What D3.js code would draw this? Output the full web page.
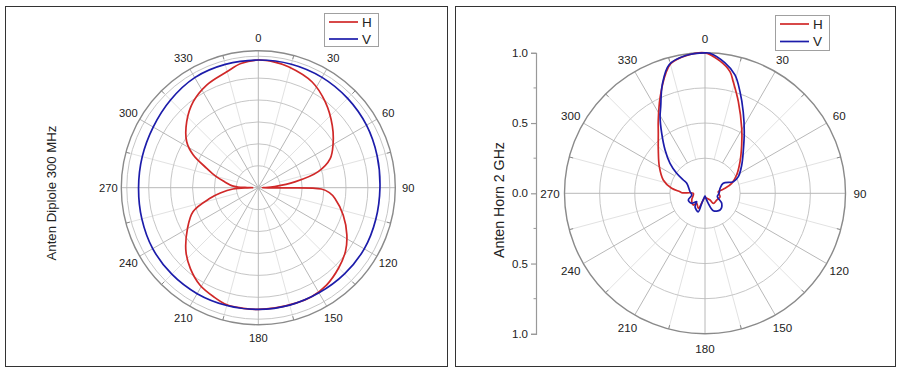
<!DOCTYPE html>
<html>
<head>
<meta charset="utf-8">
<script src="https://cdn.jsdelivr.net/npm/d3@7"></script>
<style>
  body { margin: 0; background: #fff; }
  svg { display: block; }
</style>
</head>
<body>
<div id="chart"></div>
<script>
// angle labels and grid
const angleTicks = [0, 30, 60, 90, 120, 150, 180, 210, 240, 270, 300, 330];
const minorAngles = [15, 45, 75, 105, 135, 165, 195, 225, 255, 285, 315, 345];
const seriesNames = ["H", "V"];

// dipole 300 MHz (radius as fraction of outer ring)
const dipoleRings = [0.16, 0.32, 0.48, 0.64, 0.80, 0.96];
const dipoleHAngles = [0, 7, 14, 27, 38, 50, 60, 68, 75, 81, 86, 89, 90, 90.6, 91.2, 94, 98, 108, 118, 126, 135, 145, 154, 162, 172, 180, 187, 195, 202, 211, 220, 228.5, 240, 250, 257.6, 262, 267, 269.3, 270, 271, 272, 274, 280, 285, 290.6, 296.7, 302.7, 312.7, 322.9, 333.3, 344.8, 352];
const dipoleHValues = [0.932, 0.925, 0.91, 0.866, 0.794, 0.705, 0.63, 0.566, 0.453, 0.27, 0.12, 0.05, 0.03, 0.15, 0.46, 0.52, 0.565, 0.652, 0.732, 0.787, 0.829, 0.868, 0.886, 0.886, 0.886, 0.888, 0.887, 0.885, 0.861, 0.828, 0.771, 0.705, 0.597, 0.506, 0.361, 0.28, 0.185, 0.08, 0.04, 0.08, 0.15, 0.19, 0.25, 0.32, 0.402, 0.531, 0.621, 0.711, 0.787, 0.839, 0.877, 0.915];
const dipoleVAngles = [0, 15, 30, 45, 60, 75, 90, 105, 120, 135, 150, 165, 180, 195, 210, 225, 240, 255, 270, 285, 300, 315, 330, 345];
const dipoleVValues = [0.932, 0.933, 0.93, 0.922, 0.912, 0.898, 0.888, 0.888, 0.893, 0.89, 0.886, 0.887, 0.888, 0.89, 0.893, 0.893, 0.89, 0.88, 0.874, 0.877, 0.886, 0.906, 0.928, 0.932];

// horn 2 GHz (normalised amplitude)
const hornRings = [0.25, 0.5, 0.75];
const hornAxisTicks = [1, 0.5, 0, -0.5, -1];
const hornAxisMinor = [0.75, 0.25, -0.25, -0.75];
const hornHAngles = [0, 6.4, 11.6, 14.2, 20, 29.5, 37.2, 47.9, 60, 69.5, 76, 78.8, 83, 102.8, 120, 140, 143, 165, 180, 204, 219.7, 225, 243, 260, 270, 271.5, 273.7, 278.5, 287.7, 300.2, 312.8, 322.1, 327.5, 335, 342, 345.3, 352.5];
const hornHValues = [1.0, 0.948, 0.884, 0.819, 0.694, 0.531, 0.432, 0.336, 0.26, 0.203, 0.147, 0.121, 0.095, 0.11, 0.096, 0.093, 0.06, 0.035, 0.03, 0.117, 0.093, 0.118, 0.106, 0.085, 0.083, 0.166, 0.178, 0.24, 0.312, 0.376, 0.453, 0.541, 0.619, 0.755, 0.9, 0.955, 0.99];
const hornVAngles = [0, 2, 8.6, 14.2, 19, 25.1, 32.5, 42.6, 52.4, 63.5, 67.7, 61.3, 71.6, 90, 105, 121, 138, 154.5, 162, 172, 180, 190, 198, 200, 216.7, 224.7, 233, 248, 262.7, 276, 298.7, 301.5, 305.2, 310.6, 317.3, 324.2, 329.6, 332.9, 338.5, 344.4, 352];
const hornVValues = [1.0, 0.997, 0.94, 0.869, 0.765, 0.641, 0.52, 0.402, 0.33, 0.265, 0.218, 0.148, 0.113, 0.1, 0.091, 0.139, 0.16, 0.137, 0.075, 0.03, 0.02, 0.03, 0.075, 0.14, 0.119, 0.084, 0.118, 0.128, 0.095, 0.107, 0.148, 0.181, 0.247, 0.328, 0.419, 0.527, 0.632, 0.692, 0.83, 0.95, 0.99];

const W = 900, H = 372;
const font = "Arial, 'Liberation Sans', sans-serif";
const colorH = "#d02828";
const colorV = "#1c1caa";

const svg = d3.select("#chart").append("svg")
  .attr("width", W).attr("height", H)
  .attr("viewBox", `0 0 ${W} ${H}`);

const toPts = (angles, values) => angles.map((a, i) => ({ a, v: values[i] }));

function drawPolar(cfg) {
  const g = svg.append("g");

  // panel frame
  g.append("rect")
    .attr("x", cfg.frame[0] + 0.5).attr("y", cfg.frame[1] + 0.5)
    .attr("width", cfg.frame[2] - cfg.frame[0]).attr("height", cfg.frame[3] - cfg.frame[1])
    .attr("fill", "none").attr("stroke", "#333").attr("stroke-width", 1);

  const r = d3.scaleLinear().domain([0, 1]).range([0, cfg.R]);
  const p = g.append("g").attr("transform", `translate(${cfg.cx},${cfg.cy})`);
  const rad = a => (a - 90) * Math.PI / 180;

  // minor spokes
  p.selectAll(".minor").data(minorAngles).join("line")
    .attr("x1", d => r(cfg.minorStart) * Math.cos(rad(d)))
    .attr("y1", d => r(cfg.minorStart) * Math.sin(rad(d)))
    .attr("x2", d => cfg.R * Math.cos(rad(d)))
    .attr("y2", d => cfg.R * Math.sin(rad(d)))
    .attr("stroke", "#e2e2e2").attr("stroke-width", 1);

  // rings
  p.selectAll(".ring").data(cfg.rings).join("circle")
    .attr("r", d => r(d))
    .attr("fill", "none").attr("stroke", "#c6c6c6").attr("stroke-width", 1);

  // major spokes
  p.selectAll(".major").data(angleTicks).join("line")
    .attr("x1", d => r(cfg.majorStart(d)) * Math.cos(rad(d)))
    .attr("y1", d => r(cfg.majorStart(d)) * Math.sin(rad(d)))
    .attr("x2", d => cfg.R * Math.cos(rad(d)))
    .attr("y2", d => cfg.R * Math.sin(rad(d)))
    .attr("stroke", "#b8b8b8").attr("stroke-width", 1);

  // outer ring and ticks
  p.append("circle").attr("r", cfg.R)
    .attr("fill", "none").attr("stroke", "#8a8a8a").attr("stroke-width", 1.4);
  p.selectAll(".otick").data(minorAngles).join("line")
    .attr("x1", d => cfg.R * Math.cos(rad(d)))
    .attr("y1", d => cfg.R * Math.sin(rad(d)))
    .attr("x2", d => (cfg.R - 4) * Math.cos(rad(d)))
    .attr("y2", d => (cfg.R - 4) * Math.sin(rad(d)))
    .attr("stroke", "#8a8a8a").attr("stroke-width", 1);

  // angle labels
  p.selectAll(".alab").data(angleTicks).join("text")
    .attr("x", d => cfg.labelR * Math.cos(rad(d)))
    .attr("y", d => cfg.labelR * Math.sin(rad(d)))
    .attr("text-anchor", "middle").attr("dominant-baseline", "central")
    .attr("font-family", font).attr("font-size", cfg.labelSize).attr("fill", "#222")
    .text(d => d);

  // series
  const line = d3.lineRadial()
    .angle(d => d.a * Math.PI / 180)
    .radius(d => r(d.v))
    .curve(d3.curveCatmullRomClosed.alpha(0.5));

  cfg.series.forEach(s => {
    p.append("path").datum(s.pts)
      .attr("d", line)
      .attr("fill", "none").attr("stroke", s.color)
      .attr("stroke-width", 1.7).attr("stroke-linejoin", "round");
  });

  // radial axis (horn only)
  if (cfg.axisX) {
    const y = d3.scaleLinear().domain([1, -1]).range([cfg.cy - cfg.R, cfg.cy + cfg.R]);
    const ax = g.append("g").attr("transform", `translate(${cfg.axisX},0)`)
      .call(d3.axisLeft(y).tickValues(hornAxisTicks).tickSize(5).tickPadding(3)
        .tickFormat(d => Math.abs(d).toFixed(1)));
    ax.selectAll(".domain, .tick line").attr("stroke", "#999").attr("stroke-width", 1.2);
    ax.selectAll("text").attr("font-family", font).attr("font-size", 11.5).attr("fill", "#222");
    ax.selectAll(".minor").data(hornAxisMinor).join("line")
      .attr("x1", -2.5).attr("x2", 0)
      .attr("y1", d => y(d)).attr("y2", d => y(d))
      .attr("stroke", "#999");
  }

  // axis title
  g.append("text")
    .attr("transform", `translate(${cfg.titleX},${cfg.titleY}) rotate(-90)`)
    .attr("text-anchor", "middle").attr("dominant-baseline", "central")
    .attr("font-family", font).attr("font-size", cfg.titleSize).attr("fill", "#222")
    .text(cfg.title);

  // legend
  const lg = g.append("g").attr("transform", `translate(${cfg.legend[0]},${cfg.legend[1]})`);
  lg.append("rect").attr("x", 0.5).attr("y", 0.5).attr("width", 54).attr("height", cfg.legend[2])
    .attr("fill", "#fff").attr("stroke", "#a0a0a0").attr("stroke-width", 1);
  cfg.series.forEach((s, i) => {
    const yy = 9 + i * cfg.legend[3];
    lg.append("line").attr("x1", 5).attr("x2", 34).attr("y1", yy).attr("y2", yy)
      .attr("stroke", s.color).attr("stroke-width", 1.7);
    lg.append("text").attr("x", 38).attr("y", yy).attr("dominant-baseline", "central")
      .attr("font-family", font).attr("font-size", 13.5).attr("fill", "#222")
      .text(seriesNames[i]);
  });
}

drawPolar({
  frame: [5, 6, 447, 366],
  cx: 258.3, cy: 187.7, R: 137, labelR: 150, labelSize: 11.2,
  rings: dipoleRings,
  minorStart: dipoleRings[0],
  majorStart: () => 0,
  title: "Anten Diplole 300 MHz", titleX: 51, titleY: 193, titleSize: 13.2,
  legend: [324, 13, 33, 17],
  series: [
    { pts: toPts(dipoleHAngles, dipoleHValues), color: colorH },
    { pts: toPts(dipoleVAngles, dipoleVValues), color: colorV }
  ]
});

drawPolar({
  frame: [455, 6, 895, 366],
  cx: 705, cy: 193.3, R: 140.5, labelR: 155, labelSize: 11.6,
  rings: hornRings,
  minorStart: hornRings[0],
  majorStart: d => (d % 180 === 0 ? 0 : hornRings[0]),
  axisX: 536,
  title: "Anten Horn 2 GHz", titleX: 499, titleY: 200, titleSize: 14.2,
  legend: [775, 15, 35, 17.5],
  series: [
    { pts: toPts(hornHAngles, hornHValues), color: colorH },
    { pts: toPts(hornVAngles, hornVValues), color: colorV }
  ]
});
</script>
</body>
</html>
